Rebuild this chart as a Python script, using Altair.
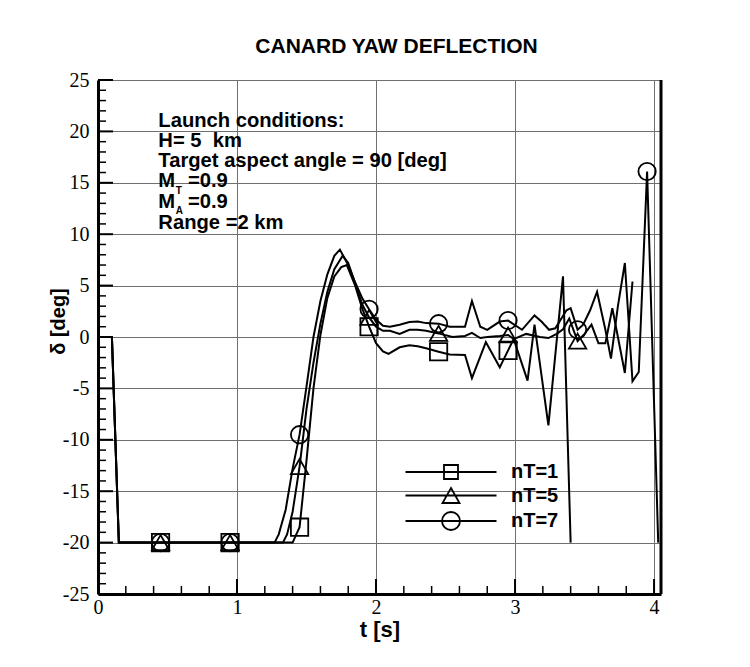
import altair as alt
import pandas as pd

# ---------------- data ----------------
series_names = ["nT=1", "nT=5", "nT=7"]
marker_times = [0.45, 0.95, 1.45, 1.95, 2.45, 2.95, 3.45, 3.95]

t_n1 = [0.0, 0.1, 0.15, 0.45, 0.95, 1.40, 1.45, 1.50, 1.55, 1.60, 1.65, 1.70, 1.75, 1.79,
        1.85, 1.90, 1.95, 2.00, 2.05, 2.09, 2.17, 2.24, 2.30, 2.36, 2.45, 2.53, 2.64, 2.69,
        2.79, 2.89, 2.95, 2.99, 3.09, 3.14, 3.24, 3.345, 3.40]
d_n1 = [0.0, 0.0, -20.0, -20.0, -20.0, -20.0, -18.5, -12.0, -5.0, 0.2, 3.8, 5.9, 6.8, 7.0,
        5.0, 2.8, 1.0, -0.6, -1.4, -1.65, -1.0, -0.8, -0.9, -1.1, -1.43, -1.7, -1.75, -4.0,
        -0.5, -2.95, -1.3, -0.2, -4.25, 1.2, -8.6, 5.9, -20.0]

t_n5 = [0.0, 0.1, 0.15, 0.45, 0.95, 1.33, 1.36, 1.40, 1.45, 1.50, 1.55, 1.60, 1.65, 1.70,
        1.76, 1.80, 1.85, 1.90, 1.95, 2.00, 2.05, 2.10, 2.17, 2.24, 2.30, 2.36, 2.45, 2.55,
        2.64, 2.69, 2.75, 2.80, 2.89, 2.95, 2.99, 3.08, 3.18, 3.24, 3.30, 3.345, 3.39, 3.45,
        3.50, 3.55, 3.60, 3.65, 3.70, 3.79, 3.845]
d_n5 = [0.0, 0.0, -20.0, -20.0, -20.0, -20.0, -19.2, -17.0, -12.6, -7.0, -2.5, 1.3, 4.4, 6.6,
        7.9, 7.2, 5.2, 3.2, 1.9, 1.0, 0.6, 0.6, 0.3, 0.7, 0.7, 0.6, 0.35, 0.0,
        0.1, 0.4, -0.1, 0.0, 0.1, 0.2, -0.2, 0.3, 0.0, -0.1, 0.3, 0.75, 1.8, -0.4,
        0.3, 1.2, -0.6, -0.6, 2.8, -3.5, 5.4]

t_n7 = [0.0, 0.1, 0.15, 0.45, 0.95, 1.27, 1.30, 1.35, 1.40, 1.45, 1.50, 1.55, 1.60, 1.65,
        1.70, 1.74, 1.80, 1.85, 1.90, 1.95, 2.00, 2.05, 2.10, 2.17, 2.24, 2.30, 2.36, 2.45,
        2.53, 2.64, 2.69, 2.75, 2.80, 2.89, 2.95, 3.05, 3.14, 3.19, 3.245, 3.29, 3.37, 3.40,
        3.45, 3.49, 3.54, 3.59, 3.65, 3.69, 3.74, 3.79, 3.845, 3.89, 3.95, 4.03]
d_n7 = [0.0, 0.0, -20.0, -20.0, -20.0, -20.0, -19.2, -16.8, -12.8, -9.5, -4.8, 0.0, 3.5, 6.1,
        7.9, 8.5, 7.0, 5.3, 3.8, 2.7, 1.7, 1.1, 1.0, 1.2, 1.45, 1.5, 1.35, 1.3,
        1.0, 1.0, 3.5, 1.0, 0.7, 1.5, 1.6, 0.7, 2.1, 1.5, 0.7, 0.85, 2.6, 2.8,
        0.7, 1.2, 2.6, 4.4, 0.7, -2.1, 3.0, 7.2, -4.3, -3.4, 16.1, -20.0]

ytick_major = list(range(-25, 26, 5))
ytick_minor = [v for v in range(-25, 26) if v % 5 != 0]
xtick_major = [0, 1, 2, 3, 4]
xtick_minor = [round(i * 0.2, 1) for i in range(1, 21) if i % 5 != 0]

annot_lines = ["Launch conditions:", "H= 5\u00a0 km", "Target aspect angle = 90 [deg]",
               "M", "=0.9", "M", "=0.9", "Range =2 km"]
annot_subs = ["T", "A"]

X_MAX = 4.05
W, H = 563, 514
FONT = "Liberation Sans"
NUM_FONT = "Liberation Sans Narrow"

rows = []
for name, ts, ds in [("nT=1", t_n1, d_n1), ("nT=5", t_n5, d_n5), ("nT=7", t_n7, d_n7)]:
    for t, d in zip(ts, ds):
        rows.append({"t": t, "d": d, "series": name})
df = pd.DataFrame(rows)
mk = df[df["t"].round(3).isin(marker_times)]

xs = alt.Scale(domain=[0, X_MAX], nice=False, zero=False)
ys = alt.Scale(domain=[-25, 25], nice=False, zero=False)

x_axis = alt.Axis(values=xtick_major, title="t [s]", titleFont=FONT, titleFontSize=22,
                  titleFontWeight="bold", titleColor="black", titleY=42, titleBaseline="alphabetic",
                  labelFont=NUM_FONT, labelFontSize=20, labelColor="black", labelPadding=3,
                  labelFlush=False, labelExpr="toString(datum.value)",
                  ticks=False, tickSize=0, domainColor="black", domainWidth=3,
                  gridColor="#707070", gridWidth=1)
y_axis = alt.Axis(values=ytick_major, title="δ [deg]", titleFont=FONT, titleFontSize=20,
                  titleFontWeight="bold", titleColor="black", titleAngle=270, titleX=-40,
                  titleY=241, titleAlign="center", titleBaseline="middle",
                  labelFont=NUM_FONT, labelFontSize=20, labelColor="black", labelPadding=9,
                  labelFlush=False, labelExpr="toString(datum.value)",
                  ticks=False, tickSize=0, domainColor="black", domainWidth=3,
                  gridColor="#707070", gridWidth=1)

lines = alt.Chart(df).mark_line(color="black", strokeWidth=2, clip=True).encode(
    x=alt.X("t:Q", scale=xs, axis=x_axis),
    y=alt.Y("d:Q", scale=ys, axis=y_axis),
    detail="series:N",
    order="t:Q",
)

shape_range = ["square", "triangle-up", "circle"]
points = alt.Chart(mk).mark_point(filled=False, color="black", strokeWidth=1.8, size=300, opacity=1).encode(
    x=alt.X("t:Q", scale=xs),
    y=alt.Y("d:Q", scale=ys),
    shape=alt.Shape("series:N", scale=alt.Scale(domain=series_names, range=shape_range), legend=None),
)

legend_paths = [
    "M-4.55,0H4.55M-0.7,-0.7H0.7V0.7H-0.7Z",
    "M-4.55,0H4.55M0,-0.75L0.85,0.75L-0.85,0.75Z",
    "M-4.55,0H4.55M0.9,0A0.9,0.9,0,1,1,-0.9,0A0.9,0.9,0,1,1,0.9,0Z",
]
legend_layer = alt.Chart(df).mark_point(filled=False, color="black").encode(
    shape=alt.Shape("series:N", scale=alt.Scale(domain=series_names, range=legend_paths),
                    legend=alt.Legend(title=None, orient="none", legendX=342, legendY=381,
                                      padding=0, symbolSize=400, symbolStrokeWidth=1.8,
                                      symbolStrokeColor="black", symbolFillColor="transparent",
                                      symbolOpacity=1, labelFont=FONT, labelFontSize=20,
                                      labelFontWeight="bold", labelColor="black",
                                      labelOffset=49, rowPadding=0.5)),
).transform_filter("false")


def yticks(vals, length, width):
    return alt.Chart(pd.DataFrame({"d": vals})).mark_rule(color="black", strokeWidth=width).encode(
        y=alt.Y("d:Q", scale=ys), x=alt.value(0), x2=alt.value(length))


def xticks(vals, length, width):
    return alt.Chart(pd.DataFrame({"t": vals})).mark_rule(color="black", strokeWidth=width).encode(
        x=alt.X("t:Q", scale=xs), y=alt.value(H), y2=alt.value(H - length))


right_frame = alt.Chart(pd.DataFrame({"t": [X_MAX]})).mark_rule(color="black", strokeWidth=3).encode(
    x=alt.X("t:Q", scale=xs), y=alt.value(0), y2=alt.value(H))

# annotation block placed in data coordinates
ann_df = pd.DataFrame({
    "label": annot_lines,
    "t": [0.434, 0.434, 0.434, 0.434, 0.647, 0.434, 0.647, 0.434],
    "d": [20.46, 18.52, 16.57, 14.56, 14.56, 12.52, 12.52, 10.48],
})
sub_df = pd.DataFrame({"label": annot_subs, "t": [0.56, 0.56], "d": [13.9, 11.96]})

annot = alt.Chart(ann_df).mark_text(font=FONT, fontSize=20.2, fontWeight="bold", color="black",
                                    align="left", baseline="alphabetic").encode(
    x=alt.X("t:Q", scale=xs), y=alt.Y("d:Q", scale=ys), text="label:N")
subs = alt.Chart(sub_df).mark_text(font=FONT, fontSize=10, fontWeight="bold", color="black",
                                   align="left", baseline="alphabetic").encode(
    x=alt.X("t:Q", scale=xs), y=alt.Y("d:Q", scale=ys), text="label:N")

chart = alt.layer(
    lines, points, legend_layer,
    yticks(ytick_major, 15, 2), yticks(ytick_minor, 8, 1.5),
    xticks(xtick_major, 15, 2), xticks(xtick_minor, 8, 1.5),
    right_frame, annot, subs,
).resolve_scale(shape="independent").properties(
    width=W, height=H,
    title=alt.Title("CANARD YAW DEFLECTION", font=FONT, fontSize=21, fontWeight="bold",
                    color="black", anchor="middle", dx=17, offset=13),
    autosize=alt.AutoSizeParams(type="none"),
    padding={"left": 98, "top": 80, "right": 89, "bottom": 73},
    background="white",
).configure_view(stroke=None)

chart.save("out.html", embed_options={"renderer": "svg", "actions": False})
